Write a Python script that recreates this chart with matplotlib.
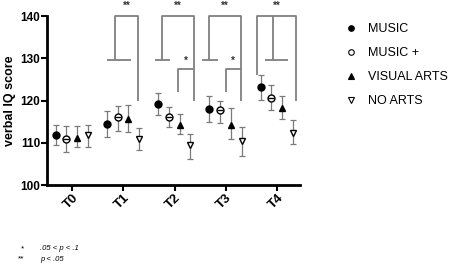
import matplotlib
matplotlib.use('Agg')
import numpy as np
import matplotlib.pyplot as plt
from matplotlib.lines import Line2D

plt.rcParams['font.family'] = ['Liberation Sans', 'DejaVu Sans']

# time points and groups
timepoints = ['T0', 'T1', 'T2', 'T3', 'T4']
groups = ['MUSIC', 'MUSIC +', 'VISUAL ARTS', 'NO ARTS']

# mean verbal IQ per group and time point
music = [111.8, 114.4, 119.1, 118.1, 123.2]
music_plus = [111.0, 116.2, 116.2, 117.7, 120.7]
visual_arts = [111.1, 115.6, 114.2, 114.3, 118.2]
no_arts = [111.8, 111.0, 109.4, 110.4, 112.4]

# upper / lower error extents
music_err_hi = [2.4, 3.1, 2.6, 2.9, 2.9]
music_err_lo = [2.4, 3.1, 2.6, 3.1, 3.0]
music_plus_err_hi = [3.0, 2.4, 2.3, 2.2, 3.0]
music_plus_err_lo = [3.2, 3.4, 2.5, 3.0, 3.0]
visual_arts_err_hi = [2.9, 3.3, 2.5, 4.0, 2.8]
visual_arts_err_lo = [2.1, 3.1, 2.2, 3.5, 2.5]
no_arts_err_hi = [2.4, 2.4, 2.6, 3.3, 2.9]
no_arts_err_lo = [2.8, 2.7, 3.2, 3.6, 2.8]

# significance brackets: main label, optional sub label (VA vs NO ARTS)
sig_main = ['', '**', '**', '**', '**']
sig_sub = ['', '', '*', '*', '']

means = [music, music_plus, visual_arts, no_arts]
err_hi = [music_err_hi, music_plus_err_hi, visual_arts_err_hi, no_arts_err_hi]
err_lo = [music_err_lo, music_plus_err_lo, visual_arts_err_lo, no_arts_err_lo]
offsets = [-0.32, -0.11, 0.10, 0.31]
markers = ['o', 'o', '^', 'v']
faces = ['black', 'white', 'black', 'white']

fig = plt.figure(figsize=(4.54, 2.69), dpi=100)
ax = fig.add_axes([0.1035, 0.312, 0.5575, 0.6285])

x = np.arange(len(timepoints))
for g in range(len(groups)):
    xs = x + offsets[g]
    ax.errorbar(xs, means[g], yerr=[err_lo[g], err_hi[g]], fmt='none',
                ecolor='#7a7a7a', elinewidth=0.9, capsize=2, capthick=0.9, zorder=2)
    ax.plot(xs, means[g], linestyle='none', marker=markers[g], markersize=5,
            markerfacecolor=faces[g], markeredgecolor='black', markeredgewidth=1.0, zorder=3)
    if g == 1:
        ax.plot(xs, means[g], linestyle='none', marker='_', markersize=5,
                markeredgecolor='black', markeredgewidth=1.0, zorder=4)

# brackets
bc = '#808080'
blw = 1.3
top = 140
tbar = 129.6
leg_bottom = 120
kw = dict(color=bc, lw=blw, clip_on=False, zorder=1, solid_capstyle='butt')
for i, lab in enumerate(sig_main):
    if not lab:
        continue
    if i < 4:
        geo = {1: (-0.16, 0.29, -0.32, 0.15),
               2: (-0.25, 0.37, -0.39, -0.09),
               3: (-0.33, 0.29, -0.46, -0.16)}[i]
        l, r, t0, t1 = geo
        ax.plot([i + l, i + l, i + r, i + r], [tbar, top, top, leg_bottom], **kw)
        ax.plot([i + t0, i + t1], [tbar, tbar], **kw)
        ax.text(i + (l + r) / 2, top + 1.2, lab, ha='center', va='bottom',
                fontsize=7, fontweight='bold', color='#333333')
        if sig_sub[i]:
            sl = {2: 0.06, 3: 0.0}[i]
            ax.plot([i + sl, i + sl, i + r], [122, 127.5, 127.5], **kw)
            ax.text(i + (sl + r) / 2, 128.3, sig_sub[i], ha='center', va='bottom',
                    fontsize=7, fontweight='bold', color='#333333')
    else:
        l, r, m, t0, t1 = -0.39, 0.37, -0.08, -0.23, 0.22
        ax.plot([i + l, i + l, i + r, i + r], [126.1, top, top, leg_bottom], **kw)
        ax.plot([i + m, i + m], [top, tbar], **kw)
        ax.plot([i + t0, i + t1], [tbar, tbar], **kw)
        ax.text(i + (l + r) / 2, top + 1.2, lab, ha='center', va='bottom',
                fontsize=7, fontweight='bold', color='#333333')

ax.set_ylim(100, 140)
ax.set_xlim(-0.49, 4.45)
ax.set_yticks([100, 110, 120, 130, 140])
ax.set_xticks(x)
ax.set_xticklabels(timepoints, rotation=45, ha='right', rotation_mode='anchor',
                   fontsize=9.5, fontweight='bold')
for t in ax.get_yticklabels():
    t.set_fontweight('bold')
    t.set_fontsize(8.5)
ax.set_ylabel('verbal IQ score', fontsize=9, fontweight='bold', labelpad=3)
ax.spines['top'].set_visible(False)
ax.spines['right'].set_visible(False)
ax.spines['left'].set_linewidth(2)
ax.spines['bottom'].set_linewidth(2)
ax.tick_params(width=1.5, length=4, pad=1)

# legend
handles = [Line2D([], [], linestyle='none', marker=markers[g], markersize=4,
                  markerfacecolor=faces[g], markeredgecolor='black', markeredgewidth=0.8)
           for g in range(len(groups))]
fig.legend(handles, groups, loc='upper left', bbox_to_anchor=(0.734, 0.955),
           frameon=False, fontsize=9, handlelength=1.0, handletextpad=0.9,
           labelspacing=0.95)

# footnote
fig.text(0.046, 0.075, '*', fontsize=6, va='center')
fig.text(0.088, 0.075, '.05 < p < .1', fontsize=5.5, style='italic', va='center')
fig.text(0.040, 0.037, '**', fontsize=6, va='center')
fig.text(0.088, 0.037, 'p < .05', fontsize=5.5, style='italic', va='center')

fig.savefig('out.png', dpi=100)
